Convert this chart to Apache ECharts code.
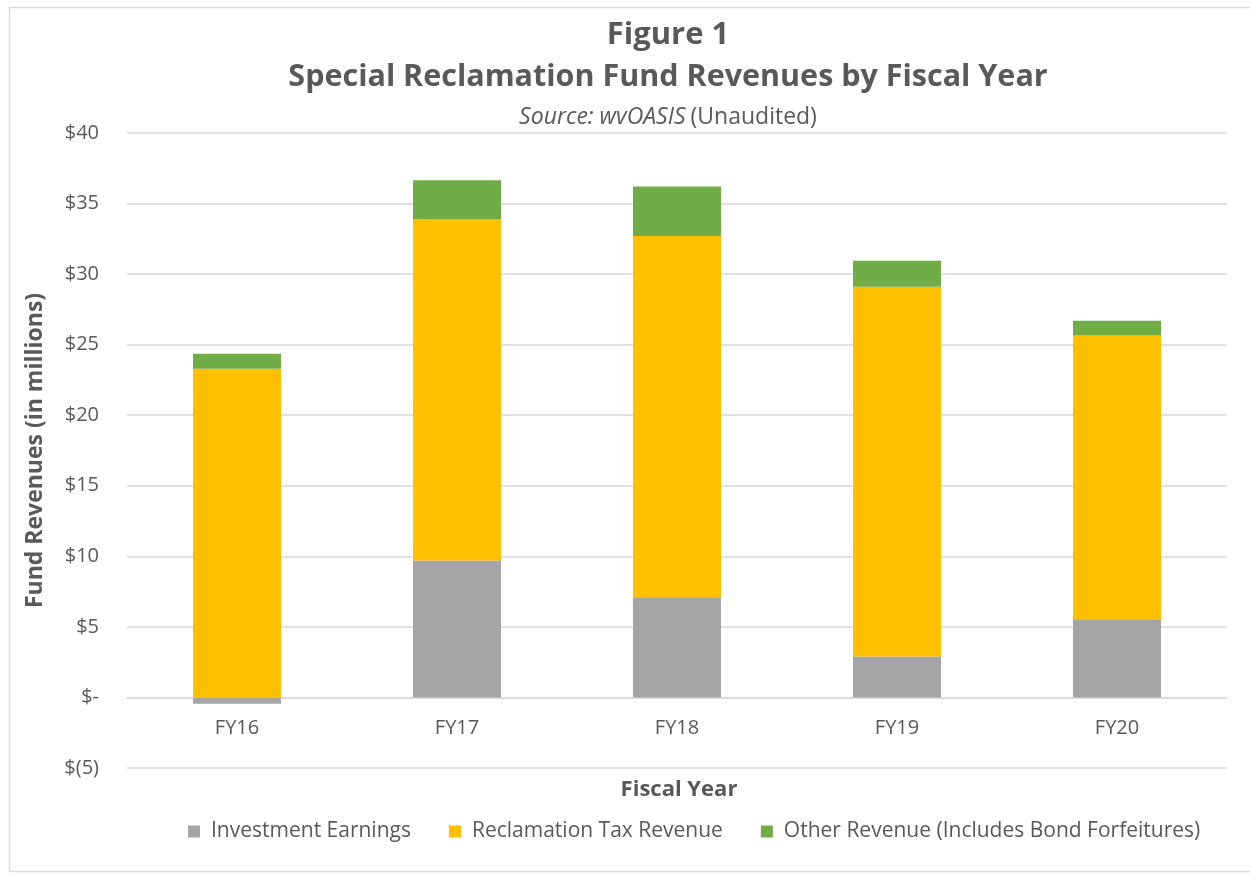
<!DOCTYPE html>
<html>
<head>
<meta charset="utf-8">
<script src="https://cdn.jsdelivr.net/npm/echarts@6/dist/echarts.min.js"></script>
<style>
  html, body { margin: 0; padding: 0; background: #fff; }
  #main { width: 1250px; height: 874px; }
</style>
</head>
<body>
<div id="main"></div>
<script>
// data (millions of dollars)
const years = ['FY16', 'FY17', 'FY18', 'FY19', 'FY20']
const investment = [-0.45, 9.7, 7.1, 2.9, 5.55]
const taxRevenue = [23.3, 24.2, 25.6, 26.2, 20.1]
const otherRevenue = [1.05, 2.75, 3.5, 1.85, 1.05]
const seriesNames = ['Investment Earnings', 'Reclamation Tax Revenue', 'Other Revenue (Includes Bond Forfeitures)']
const colors = ['#A5A5A5', '#FFC000', '#70AD47']

const textColor = '#595959'
const font = 'Open Sans'

const chart = echarts.init(document.getElementById('main'))

function money (v) {
  if (v === 0) return '$-'
  if (v < 0) return '$(' + Math.abs(v) + ')'
  return '$' + v
}

chart.setOption({
  backgroundColor: '#fff',
  color: colors,
  title: [
    {
      text: 'Figure 1',
      left: 663,
      textAlign: 'center',
      top: 15,
      textStyle: { fontFamily: font, fontSize: 31, fontWeight: 'bold', color: textColor }
    },
    {
      text: 'Special Reclamation Fund Revenues by Fiscal Year',
      left: 663,
      textAlign: 'center',
      top: 57,
      textStyle: { fontFamily: font, fontSize: 30.5, fontWeight: 'bold', color: textColor }
    },
    {
      text: '{i|Source: wvOASIS} {n|(Unaudited)}',
      left: 663,
      textAlign: 'center',
      top: 101,
      textStyle: {
        rich: {
          i: { fontFamily: font, fontSize: 23, fontStyle: 'italic', fontWeight: 'normal', color: textColor },
          n: { fontFamily: font, fontSize: 23, fontWeight: 'normal', color: textColor }
        }
      }
    },
    {
      text: 'Fiscal Year',
      left: 674,
      textAlign: 'center',
      top: 774,
      textStyle: { fontFamily: font, fontSize: 22, fontWeight: 'bold', color: textColor }
    }
  ],
  legend: {
    top: 816,
    left: 183,
    itemWidth: 12,
    itemHeight: 12,
    itemGap: 38,
    icon: 'rect',
    data: seriesNames,
    textStyle: { fontFamily: font, fontSize: 21, color: textColor, padding: [0, 0, 0, 6] }
  },
  grid: {
    left: 127,
    right: 23,
    top: 133,
    bottom: 106
  },
  xAxis: {
    type: 'category',
    data: years,
    offset: -70.5,
    axisLine: { show: true, onZero: false, lineStyle: { color: '#d9d9d9', width: 1.5 } },
    axisTick: { show: false },
    axisLabel: { fontFamily: font, fontSize: 20, color: textColor, margin: 21 }
  },
  yAxis: {
    type: 'value',
    min: -5,
    max: 40,
    interval: 5,
    name: 'Fund Revenues (in millions)',
    nameLocation: 'middle',
    nameGap: 80,
    nameTextStyle: { fontFamily: font, fontSize: 23, fontWeight: 'bold', color: textColor },
    axisLine: { show: false },
    axisTick: { show: false },
    axisLabel: { fontFamily: font, fontSize: 20, color: textColor, margin: 28, formatter: money },
    splitLine: { lineStyle: { color: '#d9d9d9', width: 1.5 } }
  },
  series: [
    { name: seriesNames[0], type: 'bar', stack: 'total', barWidth: '40%', data: investment },
    { name: seriesNames[1], type: 'bar', stack: 'total', barWidth: '40%', data: taxRevenue },
    { name: seriesNames[2], type: 'bar', stack: 'total', barWidth: '40%', data: otherRevenue }
  ],
  graphic: [{
    type: 'rect',
    left: 7,
    top: 5,
    shape: { width: 1260, height: 864 },
    style: { fill: 'none', stroke: '#d9d9d9', lineWidth: 1.5 },
    silent: true
  }]
})
</script>
</body>
</html>
